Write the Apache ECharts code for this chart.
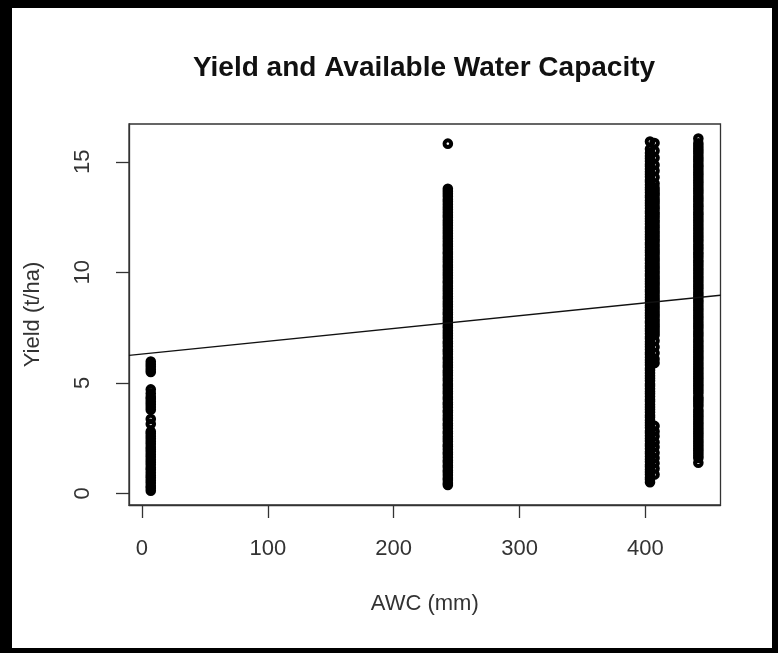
<!DOCTYPE html>
<html>
<head>
<meta charset="utf-8">
<script src="https://cdn.jsdelivr.net/npm/echarts@6/dist/echarts.min.js"></script>
<style>
html,body{margin:0;padding:0;background:#fff;}
#chart{width:778px;height:653px;}
</style>
</head>
<body>
<div id="chart"></div>
<script>
// ---- data ----
const chartTitle = 'Yield and Available Water Capacity';
const xAxisTitle = 'AWC (mm)';
const yAxisTitle = 'Yield (t/ha)';
const xTickValues = [0, 100, 200, 300, 400];
const yTickValues = [0, 5, 10, 15];

// AWC levels (mm) of each vertical column of observations
const awcLevels = [7, 243, 403.6, 407.2, 442];

// yield observations (t/ha) at each AWC level
const yieldAwc7 = [0.12,0.24,0.33,0.47,0.58,0.7,0.81,0.93,1.06,1.15,1.29,1.4,1.52,1.64,1.75,1.88,1.99,2.1,2.23,2.34,2.47,2.58,2.7,2.8,
  3.14,3.36,3.78,3.9,4.03,4.14,4.27,4.36,4.52,4.7,5.49,5.6,5.73,5.84,5.96];
const yieldAwc243 = [0.38,0.47,0.6,0.69,0.83,0.95,1.04,1.18,1.27,1.41,1.5,1.63,1.77,1.86,1.99,2.12,2.2,2.34,2.46,2.57,2.71,2.8,2.94,3.07,3.16,3.3,3.41,3.53,3.67,3.75,3.89,4.02,4.11,4.25,4.36,4.5,4.61,4.73,4.86,4.95,5.09,5.2,5.34,5.45,5.56,5.7,5.81,5.93,6.07,6.16,6.3,6.42,6.51,6.65,6.78,6.87,7.01,7.13,7.24,7.36,7.49,7.58,7.72,7.84,7.95,8.09,8.18,8.31,8.44,8.55,8.67,8.8,8.9,9.03,9.15,9.27,9.38,9.52,9.61,9.74,9.87,9.98,10.1,10.23,10.33,10.46,10.58,10.69,10.83,10.92,11.05,11.18,11.28,11.41,11.53,11.64,11.77,11.88,12.0,12.13,12.24,12.36,12.49,12.59,12.72,12.84,12.95,13.08,13.2,13.31,13.44,13.55,13.67,13.78,15.82];
const yieldAwc403 = [0.5,0.62,0.71,0.85,0.96,1.08,1.2,1.29,1.43,1.54,1.66,1.79,1.88,2.01,2.14,2.23,2.37,2.48,2.6,2.73,2.82,2.96,3.08,3.19,3.31,3.44,3.53,3.67,3.79,3.9,4.02,4.15,4.24,4.38,4.5,4.61,4.73,4.86,4.95,5.09,5.21,5.32,5.44,5.57,5.66,5.8,5.92,6.03,6.15,6.28,6.37,6.51,6.63,6.74,6.86,6.99,7.08,7.22,7.34,7.45,7.57,7.7,7.79,7.93,8.05,8.16,8.28,8.41,8.5,8.64,8.76,8.87,8.99,9.12,9.21,9.35,9.47,9.58,9.7,9.83,9.92,10.06,10.18,10.29,10.41,10.54,10.63,10.77,10.89,11.0,11.12,11.25,11.34,11.48,11.6,11.71,11.83,11.96,12.05,12.19,12.31,12.42,12.54,12.67,12.76,12.9,13.02,13.13,13.25,13.38,13.47,13.61,13.73,13.84,13.96,14.09,14.18,14.32,14.44,14.55,14.67,14.8,14.89,15.03,15.15,15.26,15.4,15.58,15.92];
const yieldAwc407 = [15.85,15.5,15.18,14.86,14.6,14.3,14.02,
  13.82,13.7,13.58,13.47,13.33,13.22,13.1,12.97,12.86,12.72,12.61,12.49,12.36,12.25,12.12,12.0,11.87,11.76,11.63,11.51,11.4,11.27,11.15,11.02,10.91,10.79,10.66,10.55,10.42,10.3,10.18,10.06,9.94,9.81,9.7,9.57,9.46,9.34,9.21,9.1,8.97,8.85,8.73,8.61,8.49,8.37,8.25,8.12,8.01,7.88,7.76,7.64,7.52,7.4,7.27,7.15,
  6.9,6.62,6.35,6.08,5.9,
  3.05,2.8,2.58,2.31,2.1,1.83,1.6,1.36,1.12,0.85];
const yieldAwc442 = [1.38,1.6,1.7,1.81,1.92,2.03,2.14,2.25,2.36,2.47,2.58,2.69,2.8,2.91,3.02,3.13,3.24,3.35,3.46,3.57,3.68,3.78,3.94,4.05,4.16,4.27,4.36,4.52,4.63,4.74,4.85,4.96,5.07,5.18,5.29,5.4,5.51,5.62,5.73,5.84,5.95,6.06,6.17,6.28,6.39,6.5,6.61,6.72,6.84,6.95,7.08,7.2,7.31,7.44,7.56,7.67,7.8,7.92,8.03,8.16,8.28,8.39,8.52,8.64,8.75,8.88,9.0,9.11,9.24,9.36,9.47,9.6,9.72,9.83,9.96,10.08,10.19,10.32,10.44,10.55,10.68,10.8,10.91,11.04,11.16,11.27,11.4,11.52,11.63,11.76,11.88,11.99,12.12,12.24,12.35,12.48,12.6,12.71,12.84,12.96,13.07,13.2,13.32,13.43,13.56,13.68,13.79,13.92,14.04,14.15,14.28,14.4,14.51,14.64,14.76,14.87,15.0,15.12,15.23,15.36,15.48,15.59,15.72,15.84,16.05];

// fitted regression line (yield = intercept + slope * AWC)
const fitIntercept = 6.30;
const fitSlope = 0.00579;

// axis extents
const xMin = -10.3, xMax = 459.6;
const yMin = -0.53, yMax = 16.71;

// ---- build chart ----
const columns = [yieldAwc7, yieldAwc243, yieldAwc403, yieldAwc407, yieldAwc442];
const FONT = "'Liberation Sans', Arial, sans-serif";
const AXIS_COLOR = '#333';

const scatterSeries = columns.map((vals, i) => ({
  type: 'scatter',
  data: vals.map(v => [awcLevels[i], v]),
  symbol: 'circle',
  symbolSize: 6.6,
  itemStyle: { color: 'rgba(0,0,0,0)', borderColor: '#000', borderWidth: 4, opacity: 1 },
  emphasis: { disabled: true },
  silent: true,
  z: 3
}));

const lineSeries = {
  type: 'line',
  data: [[xMin, fitIntercept + fitSlope * xMin], [xMax, fitIntercept + fitSlope * xMax]],
  showSymbol: false,
  symbol: 'none',
  lineStyle: { color: '#111', width: 1.3 },
  silent: true,
  z: 4
};

const chart = echarts.init(document.getElementById('chart'), null, { renderer: 'canvas' });
chart.setOption({
  animation: false,
  backgroundColor: '#fff',
  title: {
    text: chartTitle,
    left: 419,
    textAlign: 'center',
    top: 49,
    textStyle: { fontFamily: FONT, fontSize: 28, fontWeight: 'bold', color: '#111' }
  },
  grid: {
    left: 129, top: 124, width: 591.5, height: 381,
    show: true, borderColor: AXIS_COLOR, borderWidth: 1.3, backgroundColor: 'transparent'
  },
  xAxis: {
    type: 'value',
    min: xMin, max: xMax,
    name: xAxisTitle,
    nameLocation: 'middle',
    nameGap: 88,
    nameTextStyle: { fontFamily: FONT, fontSize: 22, color: '#333' },
    axisLine: { show: true, onZero: false, lineStyle: { color: AXIS_COLOR, width: 1.3 } },
    axisTick: { show: true, length: 13, inside: false, customValues: xTickValues, lineStyle: { color: AXIS_COLOR, width: 1.3 } },
    axisLabel: { show: true, customValues: xTickValues, margin: 33, fontFamily: FONT, fontSize: 22, color: '#333' },
    splitLine: { show: false }
  },
  yAxis: {
    type: 'value',
    min: yMin, max: yMax,
    name: yAxisTitle,
    nameLocation: 'middle',
    nameGap: 85,
    nameTextStyle: { fontFamily: FONT, fontSize: 22, color: '#333' },
    axisLine: { show: true, onZero: false, lineStyle: { color: AXIS_COLOR, width: 1.3 } },
    axisTick: { show: true, length: 13, inside: false, customValues: yTickValues, lineStyle: { color: AXIS_COLOR, width: 1.3 } },
    axisLabel: { show: true, customValues: yTickValues, rotate: 90, margin: 35, fontFamily: FONT, fontSize: 22, color: '#333' },
    splitLine: { show: false }
  },
  graphic: [
    { type: 'rect', shape: { x: 0, y: 0, width: 12, height: 653 }, style: { fill: '#000' }, silent: true, z: 100 },
    { type: 'rect', shape: { x: 0, y: 0, width: 778, height: 8 }, style: { fill: '#000' }, silent: true, z: 100 },
    { type: 'rect', shape: { x: 772, y: 0, width: 6, height: 653 }, style: { fill: '#000' }, silent: true, z: 100 },
    { type: 'rect', shape: { x: 0, y: 648, width: 778, height: 5 }, style: { fill: '#000' }, silent: true, z: 100 }
  ],
  series: scatterSeries.concat([lineSeries])
});
</script>
</body>
</html>
